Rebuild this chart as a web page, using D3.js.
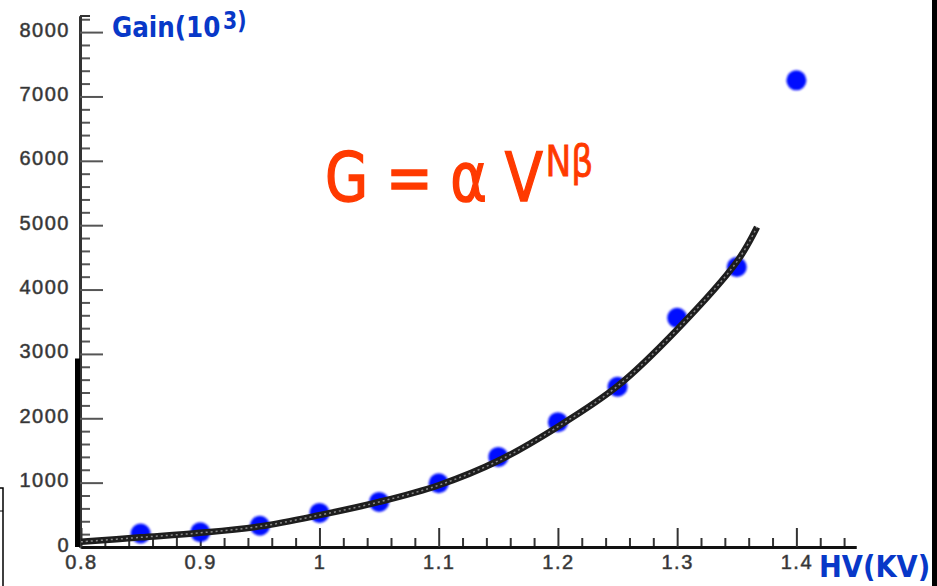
<!DOCTYPE html>
<html>
<head>
<meta charset="utf-8">
<script src="https://cdn.jsdelivr.net/npm/d3@7"></script>
<style>
  body { margin: 0; background: #fff; }
  svg { display: block; }
  .tick text { font-family: "Liberation Sans", Arial, sans-serif; }
</style>
</head>
<body>
<svg id="chart" width="937" height="586"></svg>
<script>
// measured gain points (HV in kV, gain in 10^3)
var hv = [0.85, 0.9, 0.95, 1.0, 1.05, 1.1, 1.15, 1.2, 1.25, 1.3, 1.35, 1.4];
var gain = [210, 230, 330, 530, 700, 990, 1400, 1940, 2490, 3560, 4350, 7250];

// fit curve G = a V^(N beta)
var fitHv = [0.8, 0.85, 0.9, 0.95, 1.0, 1.05, 1.1, 1.15, 1.2, 1.25, 1.3, 1.35, 1.367];
var fitGain = [80, 150, 220, 320, 495, 700, 960, 1340, 1870, 2500, 3380, 4430, 4970];

var xTicks = [0.8, 0.9, 1.0, 1.1, 1.2, 1.3, 1.4];
var xTickLabels = ["0.8", "0.9", "1", "1.1", "1.2", "1.3", "1.4"];
var yTicks = [0, 1000, 2000, 3000, 4000, 5000, 6000, 7000, 8000];

var svg = d3.select("#chart");

var x = d3.scaleLinear().domain([0.8, 1.45]).range([81, 856]);
var y = d3.scaleLinear().domain([0, 8250]).range([547, 16]);

// minor ticks
var xMinor = d3.range(0.8, 1.451, 0.02).map(function(d) { return +d.toFixed(2); })
  .filter(function(d) { return xTicks.indexOf(d) < 0; });
var yMinor = d3.range(0, 8201, 200).filter(function(d) { return d % 1000 !== 0; });

// y axis, ticks pointing inward
var gy = svg.append("g").attr("transform", "translate(80,0)");
gy.call(d3.axisLeft(y).tickValues(yMinor).tickFormat("").tickSizeInner(-10).tickSizeOuter(0));
gy.append("g").call(d3.axisLeft(y).tickValues(yTicks).tickFormat(d3.format("d"))
  .tickSizeInner(-23).tickSizeOuter(0).tickPadding(10));
gy.selectAll("path.domain").attr("stroke", "#333").attr("stroke-width", 3);
gy.selectAll(".tick line").attr("stroke", "#555").attr("stroke-width", 2);
gy.selectAll(".tick text")
  .attr("dy", 4)
  .attr("font-size", 20).attr("letter-spacing", 1.5).attr("fill", "#2a2a2a")
  .attr("stroke", "#555").attr("stroke-width", 0.6);

// small hook at top of y axis
gy.append("line").attr("x1", 0).attr("x2", 10).attr("y1", 16).attr("y2", 16)
  .attr("stroke", "#333").attr("stroke-width", 2);
// thick lower part of axis
gy.append("line").attr("x1", -2.5).attr("x2", -2.5).attr("y1", y(2930)).attr("y2", 547)
  .attr("stroke", "#000").attr("stroke-width", 5);

// x axis, ticks pointing up
var gx = svg.append("g").attr("transform", "translate(0,547)");
gx.call(d3.axisBottom(x).tickValues(xMinor).tickFormat("").tickSizeInner(-9).tickSizeOuter(0));
gx.append("g").call(d3.axisBottom(x).tickValues(xTicks)
  .tickFormat(function(d, i) { return xTickLabels[i]; })
  .tickSizeInner(-19).tickSizeOuter(0).tickPadding(8));
gx.selectAll("path.domain").attr("stroke", "#111").attr("stroke-width", 3);
gx.selectAll(".tick line").attr("stroke", "#333").attr("stroke-width", 2);
gx.selectAll(".tick text")
  .attr("font-size", 20).attr("letter-spacing", 1.5).attr("fill", "#2a2a2a")
  .attr("stroke", "#555").attr("stroke-width", 0.6);

// points
var blur = svg.append("defs").append("filter").attr("id", "soft");
blur.append("feGaussianBlur").attr("stdDeviation", 0.8);

svg.append("g").selectAll("circle")
  .data(hv)
  .enter().append("circle")
  .attr("cx", function(d) { return x(d); })
  .attr("cy", function(d, i) { return y(gain[i]); })
  .attr("r", 10)
  .attr("fill", "#0010ff")
  .attr("filter", "url(#soft)");

// fit line over the points
var line = d3.line()
  .x(function(d) { return x(d); })
  .y(function(d, i) { return y(fitGain[i]); })
  .curve(d3.curveCatmullRom);

svg.append("path").attr("d", line(fitHv))
  .attr("fill", "none").attr("stroke", "#1e1e1e").attr("stroke-width", 6.5);
svg.append("path").attr("d", line(fitHv))
  .attr("fill", "none").attr("stroke", "#8a8a8a").attr("stroke-width", 1.5)
  .attr("stroke-dasharray", "2,3");

// titles (squeezed a bit horizontally, like the narrow hand font)
var blue = "#0838c8";
var gain_t = svg.append("text")
  .attr("transform", "translate(112,37) scale(0.85,1)")
  .attr("font-family", "DejaVu Sans, sans-serif").attr("font-weight", "bold")
  .attr("font-size", 29).attr("fill", blue);
gain_t.append("tspan").text("Gain(10");
gain_t.append("tspan").attr("dx", 3).attr("dy", -8).attr("font-size", 24).text("3)");

svg.append("text")
  .attr("transform", "translate(819,577) scale(0.91,1)")
  .attr("font-family", "DejaVu Sans, sans-serif").attr("font-weight", "bold")
  .attr("font-size", 30).attr("fill", blue)
  .text("HV(KV)");

// formula
var red = "#ff3a00";
var f = svg.append("text")
  .attr("transform", "translate(325,201) scale(0.82,1)")
  .attr("font-family", "DejaVu Sans, sans-serif")
  .attr("font-size", 68).attr("fill", red)
  .attr("stroke", red).attr("stroke-width", 1.5);
f.append("tspan").text("G = \u03b1 V");
f.append("tspan").attr("dx", 3).attr("dy", -25).attr("font-size", 42).attr("stroke-width", 0.8).text("N\u03b2");

// frame remnants at the edges
svg.append("rect").attr("x", 932).attr("y", 0).attr("width", 5).attr("height", 586).attr("fill", "#000");
svg.append("path").attr("d", "M0,488H3V586").attr("fill", "none").attr("stroke", "#000").attr("stroke-width", 1.5);
svg.append("line").attr("x1", 0).attr("x2", 3).attr("y1", 511).attr("y2", 511).attr("stroke", "#000").attr("stroke-width", 1);
</script>
</body>
</html>
